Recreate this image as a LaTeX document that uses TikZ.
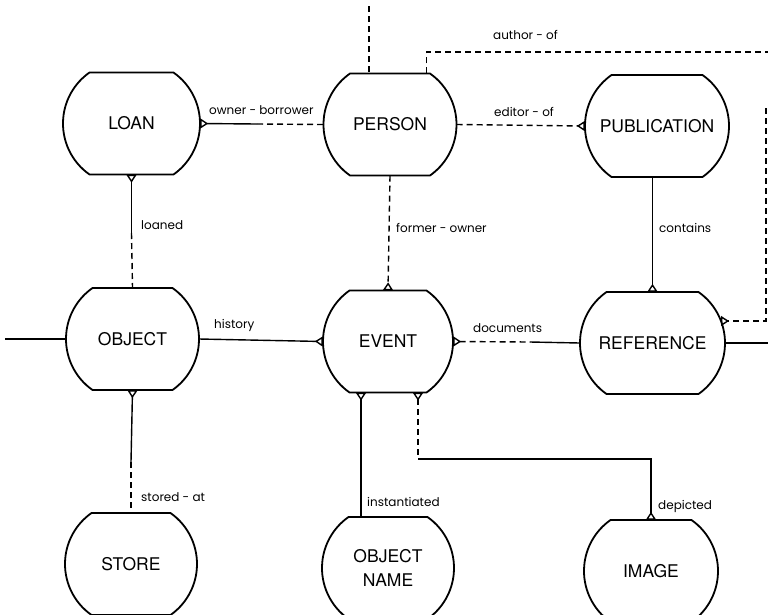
\documentclass[tikz,border=0pt]{standalone}
\usepackage{fontspec}
\setmainfont{TeX Gyre Heros}
\newfontfamily\lblfont{Poppins}
\usetikzlibrary{arrows.meta,calc}

\tikzset{
  entity/.style={rectangle, inner sep=0pt, minimum height=102pt, align=center,
    font=\fontsize{17.5}{24}\selectfont},
  entline/.style={line width=1.8pt, line join=round},
  conn/.style={line width=1.4pt},
  dash6/.style={dash pattern=on 6pt off 4pt},
  crow/.style={-{Triangle[open, reversed, length=8pt, width=10pt]}},
  crowstart/.style={{Triangle[open, reversed, length=8pt, width=10pt]}-},
  lbl/.style={anchor=west, inner sep=0pt, font=\lblfont\fontsize{12}{14}\selectfont},
}

\newcommand\entity[4]{%
  \node[entity, minimum width={(2*#3)*1pt}] (#1) at (#2) {#4};
  \draw[entline] ($(#1.center)+(-#3+26.5,-51)$) -- ++({2*#3-53},0)
    arc[start angle=-54.94, end angle=54.94, radius=62.3]
    -- ++({-2*#3+53},0)
    arc[start angle=125.06, end angle=234.94, radius=62.3] -- cycle;
}

\begin{document}
\begin{tikzpicture}[x=1pt,y=-1pt]
\fill[white] (0,0) rectangle (768,614);
\useasboundingbox (0,0) rectangle (768,614);
\clip (0,0) rectangle (768,614);

\entity{loan}{131.5,123.5}{68.5}{LOAN}
\entity{person}{390,124.5}{66.5}{PERSON}
\entity{pub}{657,126}{72}{PUBLICATION}
\entity{obj}{132.5,339}{66.5}{OBJECT}
\entity{event}{388,341.5}{65}{EVENT}
\entity{ref}{652.5,343}{72.5}{REFERENCE}
\entity{store}{131,564}{66}{STORE}
\entity{oname}{388,568}{66}{OBJECT\\NAME}
\entity{image}{651,571}{67}{IMAGE}

\coordinate (topend) at (369,6);
\coordinate (aoend) at (770,52);
\coordinate (rvtop) at (766,108);
\coordinate (refarc) at ($(ref.center)+(68.5,-22)$);
\coordinate (obmid) at (257,124);
\coordinate (lmid) at (131.5,233);
\coordinate (dmid) at (530,342);
\coordinate (leftend) at (5,339);
\coordinate (rightend) at (770,343);
\coordinate (smid) at (131,462);
\coordinate (dp1) at (418,459);

\draw[conn,dash6] (topend) -- ($(person.north)+(-21,0)$);
\draw[conn,dash6] ($(person.north)+(36.5,0)$) |- (aoend);
\draw[conn,dash6,crow] (rvtop) |- (refarc);
\draw[conn,crowstart] (loan.east) -- (obmid);
\draw[conn,dash6] (obmid) -- (person.west);
\draw[conn,dash6,crow] (person.east) -- (pub.west);
\draw[conn,crowstart] (loan.south) -- (lmid);
\draw[conn,dash6] (lmid) -- (obj.north);
\draw[conn,dash6,crow] (person.south) -- (event.north);
\draw[conn,crow] (ref.north |- pub.south) -- (ref.north);
\draw[conn,crow] (obj.east) -- (event.west);
\draw[conn,dash6,crowstart] (event.east) -- (dmid);
\draw[conn] (dmid) -- (ref.west);
\draw[conn] (leftend) -- (obj.west);
\draw[conn] (ref.east) -- (rightend);
\draw[conn,crowstart] (obj.south) -- (smid);
\draw[conn,dash6] (smid) -- (store.north);
\draw[conn,crowstart] ($(event.south)+(-27,0)$) -- ($(oname.north)+(-27,0)$);
\draw[conn,dash6,crowstart] ($(event.south)+(30,0)$) -- (dp1);
\draw[conn,crow] (dp1) -| (image.north);

\node[lbl] (l1) at (209,110) {owner - borrower};
\node[lbl] (l2) at (494,112) {editor - of};
\node[lbl] (l3) at (493,35) {author - of};
\node[lbl] (l4) at (141,225) {loaned};
\node[lbl] (l5) at (396,228) {former - owner};
\node[lbl] (l6) at (659,228) {contains};
\node[lbl] (l7) at (214,325) {history};
\node[lbl] (l8) at (473,328) {documents};
\node[lbl] (l9) at (141,497) {stored - at};
\node[lbl] (l10) at (367,502) {instantiated};
\node[lbl] (l11) at (658,506) {depicted};
\end{tikzpicture}
\end{document}
